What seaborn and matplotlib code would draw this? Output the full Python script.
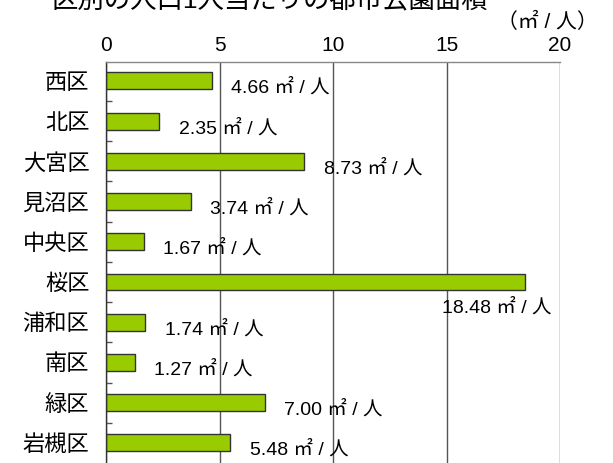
import matplotlib
matplotlib.use("Agg")
import matplotlib.pyplot as plt
import seaborn as sns
import pandas as pd

districts = ["西区", "北区", "大宮区", "見沼区", "中央区", "桜区", "浦和区", "南区", "緑区", "岩槻区"]
park_area = [4.66, 2.35, 8.73, 3.74, 1.67, 18.48, 1.74, 1.27, 7.00, 5.48]
x_ticks = [0, 5, 10, 15, 20]
title = "区別の人口1人当たりの都市公園面積"
unit = "（㎡ / 人）"

sns.set_theme(style="white")
plt.rcParams["font.family"] = ["Liberation Sans", "Noto Sans CJK JP", "DejaVu Sans"]

df = pd.DataFrame({"区": districts, "面積": park_area})

W, H = 613, 463
fig = plt.figure(figsize=(W / 100, H / 100), dpi=100)
ax_left, ax_right, ax_top = 106 / W, 560 / W, 1 - 62 / H
ax = fig.add_axes([ax_left, 0, ax_right - ax_left, ax_top])

sns.barplot(data=df, x="面積", y="区", orient="h", color="#99CC00",
            edgecolor="#333333", linewidth=1.0, width=0.42, saturation=1, ax=ax)

ax.set_xlim(0, 20)
ax.set_ylim(9.5, -0.47)
ax.set_xlabel("")
ax.set_ylabel("")

# value axis on top, with vertical grid lines
ax.xaxis.tick_top()
ax.set_xticks(x_ticks)
ax.set_xticklabels([str(t) for t in x_ticks], fontsize=15, color="black")
ax.tick_params(axis="x", length=0, pad=5)
ax.grid(axis="x", color="#555555", linewidth=1.0)
ax.set_axisbelow(True)

# category axis: labels centred on bars, small inward ticks between them
ax.tick_params(axis="y", which="major", length=0, pad=12, labelsize=16, labelcolor="black")
ax.set_yticks([i + 0.5 for i in range(len(districts) - 1)], minor=True)
ax.tick_params(axis="y", which="minor", left=True, direction="in", length=4,
               width=1, color="#555555")

for side in ["right", "bottom"]:
    ax.spines[side].set_visible(False)
ax.spines["top"].set_color("#888888")
ax.spines["top"].set_linewidth(1.0)
ax.spines["left"].set_color("#333333")
ax.spines["left"].set_linewidth(1.0)

# value labels
for i, v in enumerate(park_area):
    label = f"{v:.2f} ㎡ / 人"
    if v > 15:
        ax.annotate(label, xy=(v, i), xytext=(19, -18), textcoords="offset points",
                    ha="right", va="center", fontsize=14, color="black")
    else:
        ax.annotate(label, xy=(v, i), xytext=(14, -5), textcoords="offset points",
                    ha="left", va="center", fontsize=14, color="black")

fig.text(598 / W, 1 - 22 / H, unit, ha="right", va="center", fontsize=15, color="black")
fig.text(270 / W, 1 - 8 / H, title, ha="center", va="baseline", fontsize=19, color="black")

fig.savefig("out.png", dpi=100)
